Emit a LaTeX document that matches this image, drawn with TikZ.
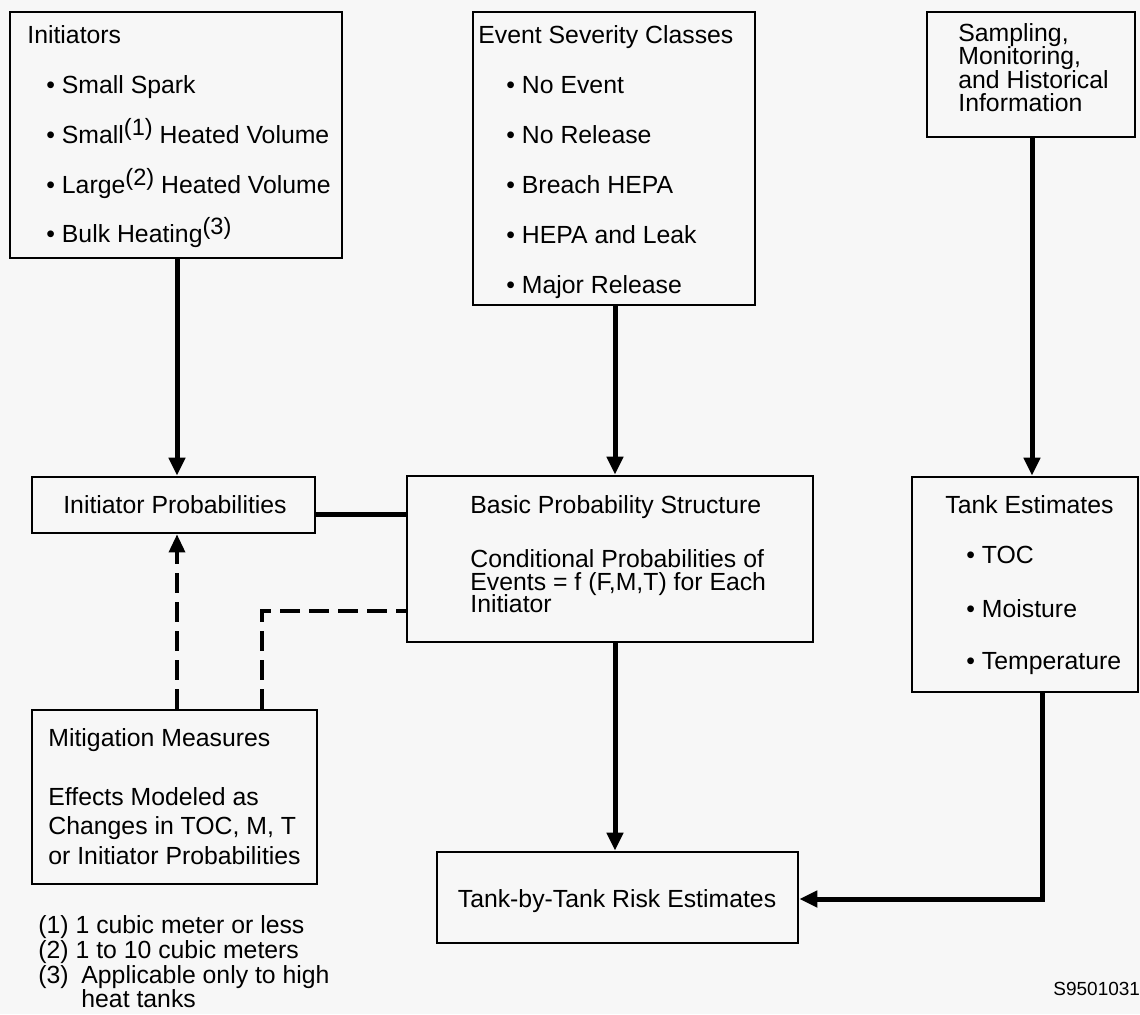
\documentclass[tikz,border=0pt]{standalone}
\usepackage{fontspec}
\setmainfont{Liberation Sans}
\usetikzlibrary{arrows.meta,fit}
\definecolor{bgpaper}{HTML}{F7F7F7}
\newcommand{\supnote}[1]{\raisebox{0.32em}{\fontsize{11.8pt}{12pt}\selectfont(#1)}}
\begin{document}
\begin{tikzpicture}[x=0.5pt,y=-0.5pt,
  box/.style={draw=black,line width=1.4pt,inner sep=0pt},
  txt/.style={anchor=base west,inner sep=0pt,font=\fontsize{12.4pt}{14pt}\selectfont},
  ctxt/.style={anchor=base,inner sep=0pt,font=\fontsize{12.4pt}{14pt}\selectfont},
  conn/.style={line width=2.5pt,-{Triangle[length=9pt,width=8pt]}},
  plainconn/.style={line width=2.5pt},
  dconn/.style={line width=1.7pt,dash pattern=on 10pt off 4.5pt,-{Triangle[length=9pt,width=8pt]}},
  dline/.style={line width=1.7pt,dash pattern=on 10pt off 4.5pt}
]
\fill[bgpaper] (0,0) rectangle (1140,1014);
\useasboundingbox (0,0) rectangle (1140,1014);

% boxes
\node[box,fit={(10,12) (342,258)}] (init) {};
\node[box,fit={(473,12) (755,305)}] (event) {};
\node[box,fit={(927,12) (1135,137)}] (samp) {};
\node[box,fit={(32,477) (315,533)}] (iprob) {};
\node[box,fit={(407,476) (813,642)}] (basic) {};
\node[box,fit={(912,477) (1138,692)}] (tank) {};
\node[box,fit={(32,710) (317,884)}] (mit) {};
\node[box,fit={(437,852) (798,943)}] (risk) {};

% Initiators text
\node[txt] (i0) at (27,43) {Initiators};
\node[txt] (i1) at (46,93) {•~Small Spark};
\node[txt] (i2) at (46,143) {•~Small\supnote{1} Heated Volume};
\node[txt] (i3) at (46,193) {•~Large\supnote{2} Heated Volume};
\node[txt] (i4) at (46,242) {•~Bulk Heating\supnote{3}};

% Event text
\node[txt] (e0) at (478,43) {Event Severity Classes};
\node[txt] (e1) at (506,93) {•~No Event};
\node[txt] (e2) at (506,143) {•~No Release};
\node[txt] (e3) at (506,193) {•~Breach HEPA};
\node[txt] (e4) at (506,243) {•~HEPA and Leak};
\node[txt] (e5) at (506,293) {•~Major Release};

% Sampling text
\node[txt] (s1) at (958,41) {Sampling,};
\node[txt] (s2) at (958,64.5) {Monitoring,};
\node[txt] (s3) at (958,88) {and Historical};
\node[txt] (s4) at (958,111.5) {Information};

% Initiator probabilities
\node[ctxt] (ip) at (175,513) {Initiator Probabilities};

% Basic
\node[txt] (b0) at (470,513) {Basic Probability Structure};
\node[txt] (b1) at (470,567) {Conditional Probabilities of};
\node[txt] (b2) at (470,590) {Events = f (F,M,T) for Each};
\node[txt] (b3) at (470,612.5) {Initiator};

% Tank estimates
\node[txt] (k0) at (945,513) {Tank Estimates};
\node[txt] (k1) at (966,563) {•~TOC};
\node[txt] (k2) at (966,617) {•~Moisture};
\node[txt] (k3) at (966,669) {•~Temperature};

% Mitigation
\node[txt] (m0) at (48,746) {Mitigation Measures};
\node[txt] (m1) at (48,805) {Effects Modeled as};
\node[txt] (m2) at (48,834.5) {Changes in TOC, M, T};
\node[txt] (m3) at (48,864) {or Initiator Probabilities};

% Risk
\node[ctxt] (rk) at (617,907) {Tank-by-Tank Risk Estimates};

% footnotes
\node[txt] (f1) at (38,933) {(1) 1 cubic meter or less};
\node[txt] (f2) at (38,958) {(2) 1 to 10 cubic meters};
\node[txt] (f3) at (38,983) {(3)};
\node[txt] (f3b) at (81,983) {Applicable only to high};
\node[txt] (f3c) at (81,1007) {heat tanks};

\node[anchor=base west,inner sep=0pt,font=\fontsize{9.5pt}{11pt}\selectfont] (code) at (1053,995) {S9501031};

% connectors
\coordinate (ax1) at (177,0);
\coordinate (ax2) at (615,0);
\coordinate (ax3) at (1032,0);
\coordinate (ax4) at (1042,0);
\coordinate (ax5) at (262,0);
\coordinate (ay1) at (0,514);
\coordinate (ay2) at (0,611);
\coordinate (ay3) at (0,899);

\draw[conn] (init.south -| ax1) -- (iprob.north -| ax1);
\draw[conn] (event.south -| ax2) -- (basic.north -| ax2);
\draw[conn] (samp.south -| ax3) -- (tank.north -| ax3);
\draw[conn] (basic.south -| ax2) -- (risk.north -| ax2);
\draw[plainconn] (iprob.east |- ay1) -- (basic.west |- ay1);
\draw[conn] (tank.south -| ax4) |- (risk.east |- ay3);
\draw[dconn] (mit.north -| ax1) -- (iprob.south -| ax1);
\draw[dline] (mit.north -| ax5) |- (basic.west |- ay2);
\end{tikzpicture}
\end{document}
